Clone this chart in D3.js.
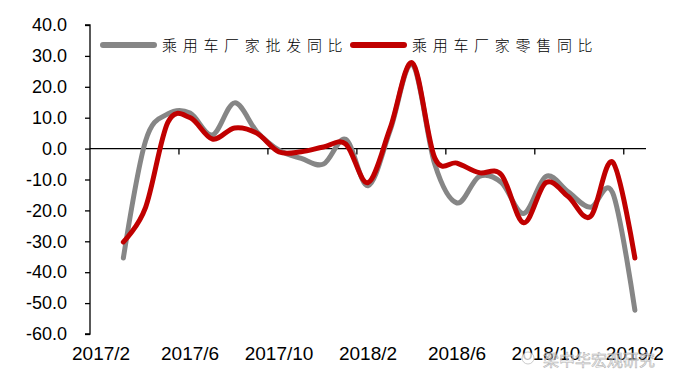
<!DOCTYPE html>
<html>
<head>
<meta charset="utf-8">
<script src="https://cdn.jsdelivr.net/npm/d3@7"></script>
<style>
  body { margin: 0; background: #fff; }
  svg { display: block; }
</style>
</head>
<body>
<svg id="chart" width="676" height="384"></svg>
<script>

// months on the category axis (2017/2 .. 2019/2)
let months = ["2017/2","2017/3","2017/4","2017/5","2017/6","2017/7","2017/8","2017/9","2017/10","2017/11","2017/12",
              "2018/1","2018/2","2018/3","2018/4","2018/5","2018/6","2018/7","2018/8","2018/9","2018/10","2018/11","2018/12",
              "2019/1","2019/2"];

let labelMonths = ["2017/2","2017/6","2017/10","2018/2","2018/6","2018/10","2019/2"];

let seriesNames = ["乘用车厂家批发同比", "乘用车厂家零售同比"];

// 批发同比 (grey)
let wholesale = [null, -35.4, 2.5, 11.2, 11.5, 4.4, 14.8, 5.5, -0.5, -3.2, -5.0,
                 3.0, -12.0, 6.0, 27.2, -5.0, -17.6, -9.0, -11.0, -21.0, -9.0, -14.0, -19.0,
                 -14.3, -52.3];

// 零售同比 (red)
let retail = [null, -30.2, -19.0, 8.5, 10.0, 3.1, 6.7, 5.0, -1.1, -1.0, 0.5,
              1.5, -11.0, 6.7, 27.7, -3.0, -4.7, -7.8, -8.5, -24.0, -11.0, -15.5, -22.0,
              -4.4, -35.4];

let yTicks = [40, 30, 20, 10, 0, -10, -20, -30, -40, -50, -60];

let colors = ["#868686", "#c00000"];

let margin = {top: 25, left: 90, right: 30, bottom: 50};
let width = 676, height = 384;

let svg = d3.select("#chart");

let x = d3.scaleBand().domain(months).range([margin.left, width - margin.right]).padding(0);
let y = d3.scaleLinear().domain([-60, 40]).range([height - margin.bottom, margin.top]);

let cx = (m) => x(m) + x.bandwidth() / 2;

// y axis
let yAxis = svg.append("g")
    .attr("transform", "translate(" + margin.left + ",0)")
    .call(d3.axisLeft(y).tickValues(yTicks).tickSize(5).tickPadding(18)
        .tickFormat((d) => d.toFixed(1)));
yAxis.selectAll("text")
    .attr("font-family", "Liberation Sans, Arial, sans-serif")
    .attr("font-size", 18)
    .attr("fill", "#000");
yAxis.selectAll("line, path").attr("stroke", "#000").attr("stroke-width", 1.3);
yAxis.select(".domain").attr("d", "M-5," + y(40) + "H0V" + y(-60) + "H-5");

// x axis line at zero with ticks on the category boundaries
let xLine = svg.append("g").attr("transform", "translate(0," + y(0) + ")");
xLine.append("line")
    .attr("x1", margin.left).attr("x2", width - margin.right)
    .attr("stroke", "#000").attr("stroke-width", 1.3);
xLine.selectAll(".tk")
    .data(labelMonths.slice(1))
    .join("line")
    .attr("class", "tk")
    .attr("x1", (d) => x(d)).attr("x2", (d) => x(d))
    .attr("y1", 0).attr("y2", 6)
    .attr("stroke", "#000").attr("stroke-width", 1.3);

// category labels at the bottom
let xAxis = svg.append("g")
    .attr("transform", "translate(0," + (height - 38) + ")")
    .call(d3.axisBottom(x).tickValues(labelMonths).tickSize(0).tickPadding(0));
xAxis.select(".domain").remove();
xAxis.selectAll("text")
    .attr("font-family", "Liberation Sans, Arial, sans-serif")
    .attr("font-size", 19)
    .attr("fill", "#000");

// lines
let line = d3.line()
    .defined((d) => d != null)
    .x((d, i) => cx(months[i]))
    .y((d) => y(d))
    .curve(d3.curveCardinal.tension(0));

[wholesale, retail].forEach((s, i) => {
    svg.append("path")
        .datum(s)
        .attr("d", line)
        .attr("fill", "none")
        .attr("stroke", colors[i])
        .attr("stroke-width", 5)
        .attr("stroke-linecap", "round")
        .attr("stroke-linejoin", "round");
});

// legend
let legendX = [103, 353];
seriesNames.forEach((name, i) => {
    let g = svg.append("g").attr("transform", "translate(" + legendX[i] + ",45)");
    g.append("line")
        .attr("x1", 0).attr("x2", 51)
        .attr("stroke", colors[i]).attr("stroke-width", 6)
        .attr("stroke-linecap", "round");
    g.append("text")
        .attr("x", 59).attr("y", 6)
        .attr("font-family", "Noto Sans CJK SC, sans-serif")
        .attr("font-weight", 300)
        .attr("font-size", 15)
        .attr("letter-spacing", 5.7)
        .attr("fill", "#000")
        .text(name);
});

// watermark (sits over the last labels, as in the source image)
let wm = svg.append("g").attr("opacity", 0.75);
wm.append("circle")
    .attr("cx", 528).attr("cy", 358).attr("r", 6)
    .attr("fill", "#fff").attr("stroke", "#aaa").attr("stroke-width", 0.8);
wm.append("text")
    .attr("x", 543).attr("y", 366)
    .attr("font-family", "Noto Sans CJK SC, sans-serif")
    .attr("font-size", 16)
    .attr("fill", "#fff")
    .attr("stroke", "#999")
    .attr("stroke-width", 0.6)
    .text("梁中华宏观研究");

</script>
</body>
</html>
